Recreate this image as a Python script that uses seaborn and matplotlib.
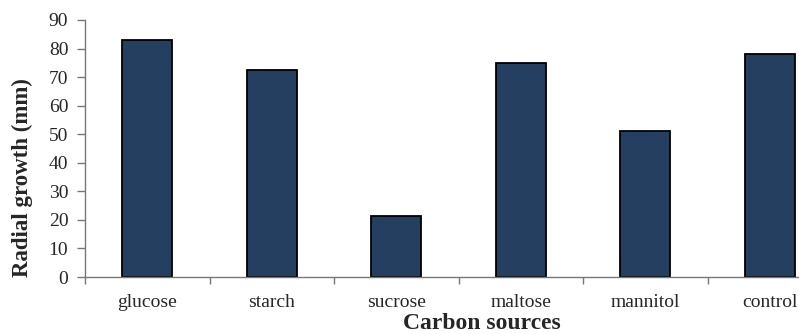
import matplotlib
matplotlib.use("Agg")
import matplotlib.pyplot as plt
import seaborn as sns
import pandas as pd

# radial growth per carbon source
sources = ["glucose", "starch", "sucrose", "maltose", "mannitol", "control"]
growth = [83.0, 72.5, 21.3, 74.8, 51.1, 78.2]

sns.set_style("white")
plt.rcParams["font.family"] = ["Liberation Serif", "DejaVu Serif"]

df = pd.DataFrame({"source": sources, "growth": growth})

W, H = 799, 334
fig = plt.figure(figsize=(W / 100, H / 100), dpi=100)
# the right end of the axis runs past the image edge, as in the original
ax = fig.add_axes([85 / W, 57 / H, 747 / W, 257 / H])
sns.barplot(data=df, x="source", y="growth", order=sources, color="#253f60",
            saturation=1, width=0.4, edgecolor="black", linewidth=1.3, ax=ax)

ax.set_xlim(-0.5, 5.5)
ax.set_ylim(0, 90)
ax.set_yticks(range(0, 91, 10))
ax.set_xticks([i - 0.5 for i in range(len(sources) + 1)], minor=True)
ax.tick_params(axis="x", which="major", length=0, pad=12, labelsize=14)
ax.tick_params(axis="x", which="minor", length=5, color="#777777", width=1,
               direction="out")
ax.tick_params(axis="y", length=6, color="#777777", width=1, direction="out",
               pad=6, labelsize=14)
ax.yaxis.set_ticks_position("left")
ax.xaxis.set_ticks_position("bottom")

for side in ["top", "right"]:
    ax.spines[side].set_visible(False)
for side in ["left", "bottom"]:
    ax.spines[side].set_color("#777777")
    ax.spines[side].set_linewidth(1)

ax.set_xlabel("")
ax.set_ylabel("")
fig.text(482 / W, 5 / H, "Carbon sources", fontsize=17, fontweight="bold",
         ha="center", va="baseline")
fig.text(22 / W, 1 - 177.5 / H, "Radial growth (mm)", fontsize=16.5,
         fontweight="bold", rotation=90, ha="center", va="center")

fig.savefig("out.png", dpi=100)
